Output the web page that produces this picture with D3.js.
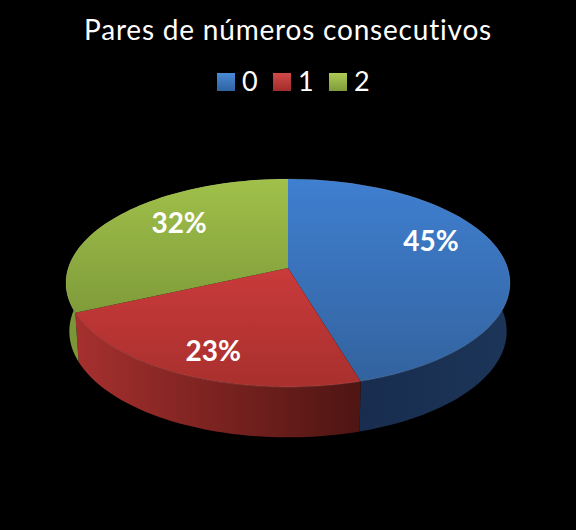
<!DOCTYPE html>
<html>
<head>
<meta charset="utf-8">
<script src="https://cdn.jsdelivr.net/npm/d3@7"></script>
<style>
  html, body { margin: 0; background: #000; }
  svg { display: block; }
  text { font-family: Lato, "Open Sans", sans-serif; fill: #fff; font-variant-ligatures: none; }
</style>
</head>
<body>
<script>
var categories = ["0", "1", "2"];
var percents = [45.4, 22.8, 31.8];
var title = "Pares de números consecutivos";

var topStops = [["#3f7fd0", "#33639f"], ["#c93a3b", "#a8302d"], ["#a0c04a", "#7f9c3a"]];
var wallStops = [["#16294a", "#1c3558"], ["#a6302e", "#4e1512"], ["#7a9638", "#7f9c3a"]];
var legendStops = [["#4a8ad8", "#2f639f"], ["#d24a4a", "#a02c2a"], ["#aecb55", "#7f9c3a"]];
var labelNudge = [[3.6, -17.6], [-10, 17], [5.4, -11]];

var width = 576, height = 530;
var cx = 288, cy = 268;
var R = 219.7, S = 101.8, k = 6.93;

var svg = d3.select("body").append("svg").attr("width", width).attr("height", height);
var defs = svg.append("defs");
svg.append("rect").attr("width", width).attr("height", height).attr("fill", "#000");

// flat disc -> screen, with a little perspective
function project(a, r, drop) {
  var u = r * Math.sin(a), v = -r * Math.cos(a);
  var f = k / (k - v);
  var s = drop ? 0.985 : 1;
  return [cx + R * u * f * s, cy + S * v * f + (drop ? 34 + 14 * f : 0)];
}

function arcPoints(a0, a1, drop) {
  return d3.range(0, 61).map(function (i) {
    return project(a0 + (a1 - a0) * i / 60, 1, drop);
  });
}

function gradient(id, stops, horizontal) {
  var g = defs.append("linearGradient").attr("id", id)
    .attr("x1", 0).attr("y1", 0)
    .attr("x2", horizontal ? 1 : 0).attr("y2", horizontal ? 0 : 1);
  g.append("stop").attr("offset", 0).attr("stop-color", stops[0]);
  g.append("stop").attr("offset", 1).attr("stop-color", stops[1]);
}

var slices = d3.pie().sort(null)(percents);
var line = d3.line();

slices.forEach(function (d, i) {
  gradient("wall" + i, wallStops[i], true);
  gradient("top" + i, topStops[i], false);
  gradient("leg" + i, legendStops[i], false);
});

// walls first, the top faces cover whatever is at the back
svg.append("g").selectAll("path").data(slices).join("path")
  .attr("d", function (d) {
    return line(arcPoints(d.startAngle, d.endAngle, false)
      .concat(arcPoints(d.startAngle, d.endAngle, true).reverse())) + "Z";
  })
  .attr("fill", function (d, i) { return "url(#wall" + i + ")"; });

svg.append("g").selectAll("path").data(slices).join("path")
  .attr("d", function (d) {
    return line([project(0, 0, false)].concat(arcPoints(d.startAngle, d.endAngle, false))) + "Z";
  })
  .attr("fill", function (d, i) { return "url(#top" + i + ")"; });

// thin light edge on the front rim
svg.append("g").selectAll("path").data(slices).join("path")
  .attr("d", function (d) { return line(arcPoints(d.startAngle, d.endAngle, false)); })
  .attr("fill", "none")
  .attr("stroke", "#fff")
  .attr("stroke-opacity", 0.1)
  .attr("stroke-width", 1);

// labels
svg.append("g").selectAll("text").data(slices).join("text")
  .attr("x", function (d, i) { return project((d.startAngle + d.endAngle) / 2, 0.65, false)[0] + labelNudge[i][0]; })
  .attr("y", function (d, i) { return project((d.startAngle + d.endAngle) / 2, 0.65, false)[1] + labelNudge[i][1]; })
  .attr("dy", "0.35em")
  .attr("text-anchor", "middle")
  .attr("font-size", 28)
  .attr("font-weight", 700)
  .text(function (d) { return d3.format(".0f")(d.data) + "%"; });

svg.append("text")
  .attr("x", cx).attr("y", 40)
  .attr("text-anchor", "middle")
  .attr("font-size", 28)
  .attr("letter-spacing", 0.8)
  .text(title);

// legend
var legendX = d3.scaleOrdinal().domain(categories).range([217, 273, 329]);
var items = svg.append("g").selectAll("g").data(categories).join("g")
  .attr("transform", function (d) { return "translate(" + legendX(d) + ",73)"; });
items.append("rect")
  .attr("width", 18).attr("height", 18)
  .attr("fill", function (d, i) { return "url(#leg" + i + ")"; });
items.append("text")
  .attr("x", 25).attr("y", 18)
  .attr("font-size", 27)
  .text(function (d) { return d; });
</script>
</body>
</html>
